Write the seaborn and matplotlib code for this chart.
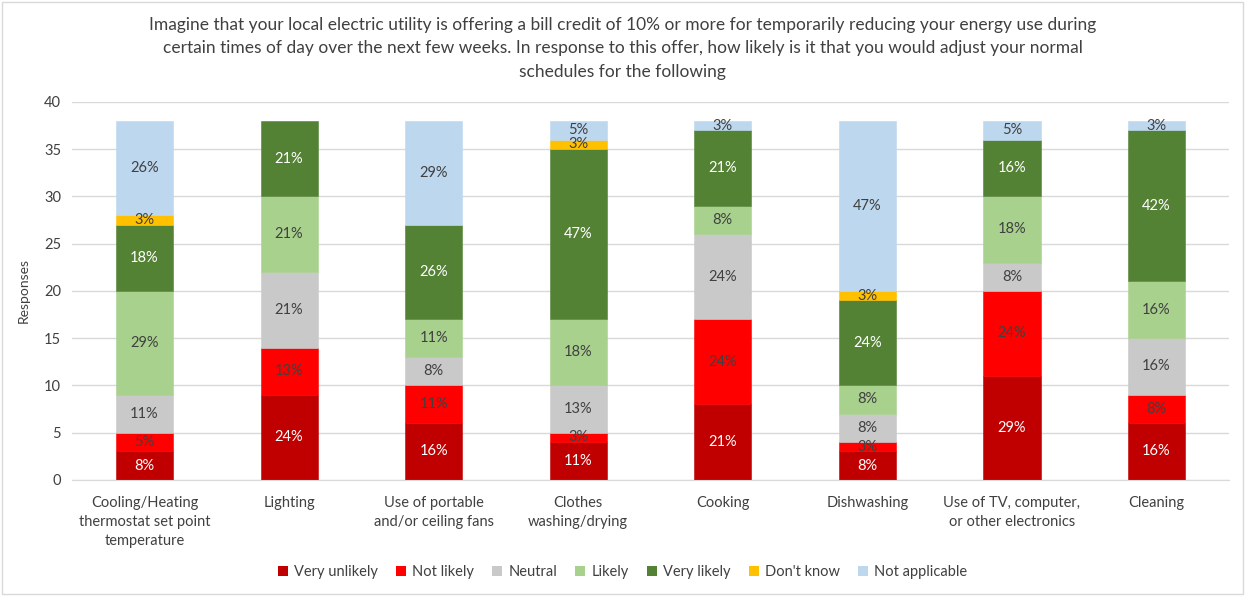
import matplotlib
matplotlib.use("Agg")
import matplotlib.pyplot as plt
from matplotlib.patches import Rectangle, Patch
import numpy as np
import pandas as pd
import seaborn as sns

categories = [
    "Cooling/Heating\nthermostat set point\ntemperature",
    "Lighting",
    "Use of portable\nand/or ceiling fans",
    "Clothes\nwashing/drying",
    "Cooking",
    "Dishwashing",
    "Use of TV, computer,\nor other electronics",
    "Cleaning",
]
very_unlikely = [3, 9, 6, 4, 8, 3, 11, 6]
not_likely = [2, 5, 4, 1, 9, 1, 9, 3]
neutral = [4, 8, 3, 5, 9, 3, 3, 6]
likely = [11, 8, 4, 7, 3, 3, 7, 6]
very_likely = [7, 8, 10, 18, 8, 9, 6, 16]
dont_know = [1, 0, 0, 1, 0, 1, 0, 0]
not_applicable = [10, 0, 11, 2, 1, 18, 2, 1]

series_names = ["Very unlikely", "Not likely", "Neutral", "Likely",
                "Very likely", "Don't know", "Not applicable"]
series_values = [very_unlikely, not_likely, neutral, likely,
                 very_likely, dont_know, not_applicable]
colors = ["#C00000", "#FF0000", "#C9C9C9", "#A9D18E",
          "#548235", "#FFC000", "#BDD7EE"]
label_colors = ["white", "#404040", "#404040", "#404040",
                "white", "#404040", "#404040"]

title = ("Imagine that your local electric utility is offering a bill credit of 10% or more for "
         "temporarily reducing your energy use during\ncertain times of day over the next few weeks. "
         "In response to this offer, how likely is it that you would adjust your normal\n"
         "schedules for the following")

sns.set_style("white")
plt.rcParams["font.family"] = ["Lato", "DejaVu Sans"]

fig = plt.figure(figsize=(12.45, 5.96), dpi=100)
ax = fig.add_axes([0.058, 0.195, 0.929, 0.634])

totals = np.sum(np.array(series_values), axis=0)
bottom = np.zeros(len(categories))
for name, vals, col, tcol in zip(series_names, series_values, colors, label_colors):
    vals = np.array(vals, dtype=float)
    df = pd.DataFrame({"category": categories, "value": vals})
    n_before = len(ax.patches)
    sns.barplot(data=df, x="category", y="value", color=col, width=0.395,
                bottom=bottom, ax=ax, saturation=1, errorbar=None,
                edgecolor=col, linewidth=0.4)
    # empty segments would otherwise leave a hairline edge
    for p in ax.patches[n_before:]:
        if p.get_height() == 0:
            p.set_visible(False)
    for i, v in enumerate(vals):
        if v > 0:
            pct = round(v / totals[i] * 100)
            ax.text(i, bottom[i] + v / 2, f"{pct}%", ha="center", va="center",
                    color=tcol, fontsize=10.5)
    bottom = bottom + vals

ax.set_ylim(0, 40)
ax.set_xlim(-0.5, 7.5)
ax.set_yticks(range(0, 41, 5))
ax.yaxis.grid(True, color="#D9D9D9", linewidth=1)
ax.set_axisbelow(True)
for s in ["top", "right", "left"]:
    ax.spines[s].set_visible(False)
ax.spines["bottom"].set_color("#D9D9D9")
ax.tick_params(axis="both", length=0, labelsize=10.5, colors="#404040")
ax.tick_params(axis="x", pad=12)
ax.tick_params(axis="y", pad=8)
for lab in ax.get_xticklabels():
    lab.set_linespacing(1.45)
ax.set_xlabel("")
ax.set_ylabel("Responses", fontsize=10, color="#404040", labelpad=10)

fig.text(0.5, 0.972, title, ha="center", va="top", fontsize=12.5,
         color="#404040", linespacing=1.6)

handles = [Patch(facecolor=c, edgecolor="none", label=n) for n, c in zip(series_names, colors)]
leg = fig.legend(handles=handles, loc="center", bbox_to_anchor=(0.5, 0.04), ncol=7,
                 frameon=False, fontsize=10.5, handlelength=0.7, handleheight=0.7,
                 handletextpad=0.4, columnspacing=1.25)
for t in leg.get_texts():
    t.set_color("#404040")

fig.patches.append(Rectangle((0.002, 0.003), 0.996, 0.994, transform=fig.transFigure,
                             fill=False, edgecolor="#D9D9D9", linewidth=1))

fig.savefig("out.png", dpi=100)
